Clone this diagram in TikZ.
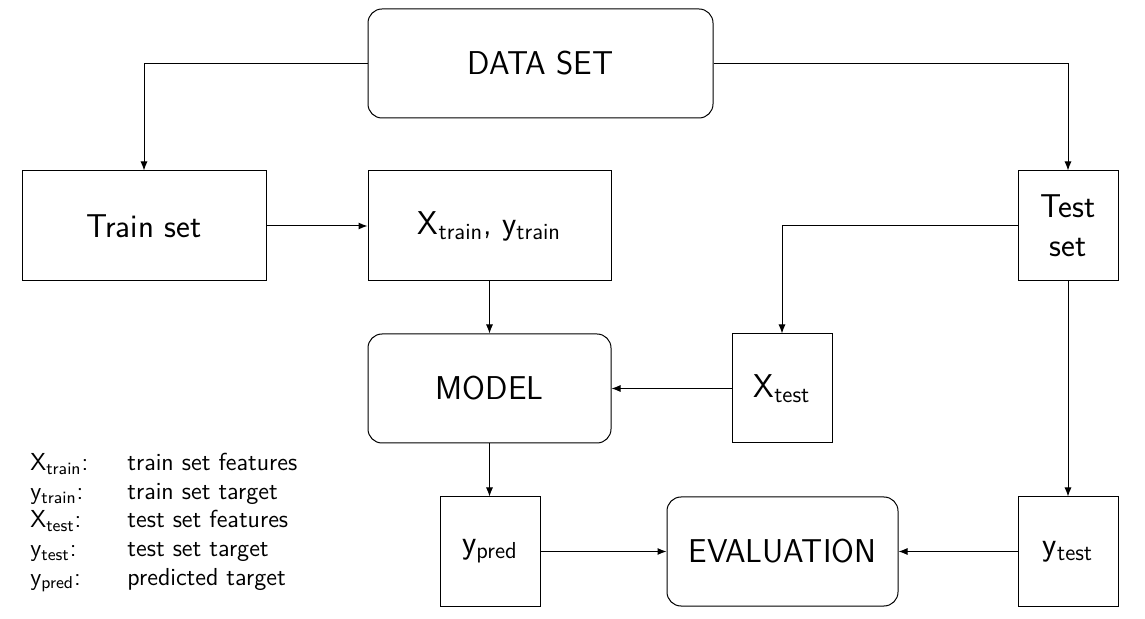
\documentclass[tikz,border=0pt]{standalone}
\usetikzlibrary{arrows.meta}
\begin{document}
\begin{tikzpicture}[x=0.5pt,y=-0.5pt,
  every node/.style={font=\sffamily\fontsize{16.5}{19.5}\selectfont},
  box/.style={draw,line width=0.5pt,inner sep=0pt,align=center},
  rbox/.style={box,rounded corners=7pt},
  conn/.style={line width=0.5pt,-{Latex[length=4.5pt,width=3.5pt]}},
  legend/.style={font=\sffamily\fontsize{12.3}{14}\selectfont,anchor=base west,inner sep=0pt}]
\useasboundingbox (0,0) rectangle (1145,619);
\node[rbox,minimum width=172.5pt,minimum height=54.5pt] (data) at (540.5,63.5) {DATA SET};
\node[box,minimum width=122pt,minimum height=55pt] (train) at (144,226) {Train set};
\node[box,minimum width=121.5pt,minimum height=55pt] (xytrain) at (489.5,226) {X\textsubscript{train}, y\textsubscript{train}};
\node[box,minimum width=50pt,minimum height=55pt] (test) at (1068,226) {Test\\set};
\node[rbox,minimum width=121.5pt,minimum height=54.5pt] (model) at (489.5,388.5) {MODEL};
\node[box,minimum width=50pt,minimum height=54.5pt] (xtest) at (782,388.5) {X\textsubscript{test}};
\node[box,minimum width=50pt,minimum height=54.5pt] (ypred) at (490,551.5) {y\textsubscript{pred}};
\node[rbox,minimum width=115.5pt,minimum height=54.5pt] (eval) at (782.5,551.5) {EVALUATION};
\node[box,minimum width=50pt,minimum height=54.5pt] (ytest) at (1068,551.5) {y\textsubscript{test}};
\draw[conn] (data.west) -| (train.north);
\draw[conn] (data.east) -| (test.north);
\draw[conn] (train.east) -- (xytrain.west);
\draw[conn] (xytrain.south) -- (model.north);
\draw[conn] (test.west) -| (xtest.north);
\draw[conn] (xtest.west) -- (model.east);
\draw[conn] (model.south) -- (ypred.north -| model.south);
\draw[conn] (ypred.east) -- (eval.west);
\draw[conn] (test.south) -- (ytest.north);
\draw[conn] (ytest.west) -- (eval.east);
\node[legend] (l1a) at (30,471) {X\textsubscript{train}:};
\node[legend] (l1b) at (127,471) {train set features};
\node[legend] (l2a) at (30,499.5) {y\textsubscript{train}:};
\node[legend] (l2b) at (127,499.5) {train set target};
\node[legend] (l3a) at (30,528) {X\textsubscript{test}:};
\node[legend] (l3b) at (127,528) {test set features};
\node[legend] (l4a) at (30,556.5) {y\textsubscript{test}:};
\node[legend] (l4b) at (127,556.5) {test set target};
\node[legend] (l5a) at (30,585) {y\textsubscript{pred}:};
\node[legend] (l5b) at (127,585) {predicted target};
\end{tikzpicture}
\end{document}
